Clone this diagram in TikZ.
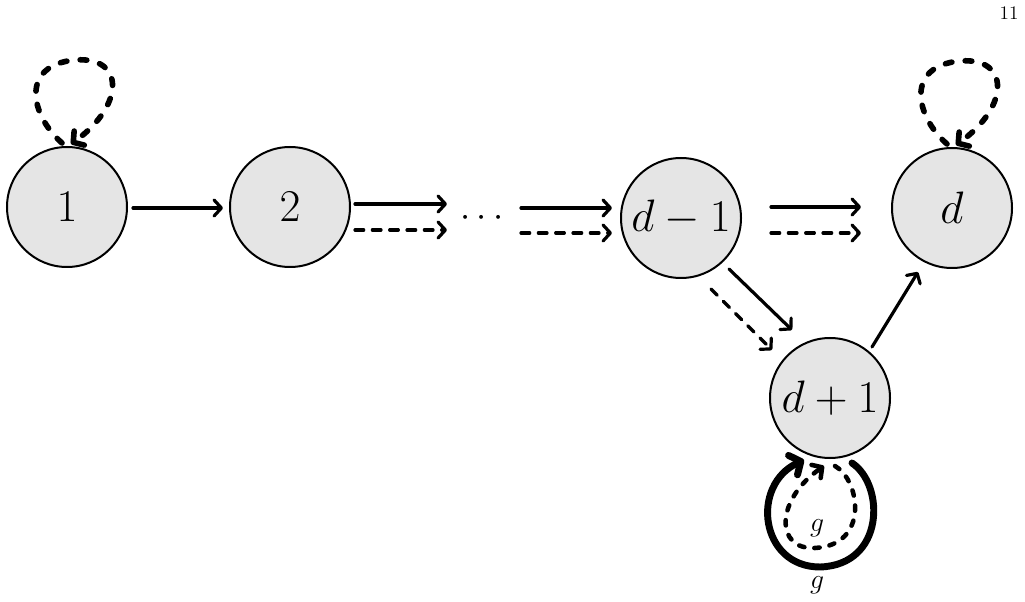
\documentclass[tikz,border=0pt]{standalone}
\usepackage{graphicx}
\usetikzlibrary{arrows.meta,calc}
\newcommand{\bigt}[1]{\scalebox{1.37}{$#1$}}
\begin{document}
\begin{tikzpicture}[x=0.75pt,y=-0.75pt,
  state/.style={circle,draw=black,line width=1.5pt,fill=black!10,minimum size=90pt,inner sep=0pt,font=\fontsize{24.88}{30}\selectfont},
  arr/.style={line width=2.4pt,line cap=round,-{Straight Barb[round,length=5.5pt,width=12pt]}},
  darr/.style={arr,dash pattern=on 6.5pt off 6.5pt},
  dloop/.style={line width=4.2pt,line cap=round,dash pattern=on 5pt off 10pt,-{Straight Barb[round,length=5.5pt,width=13pt]}},
  sloop/.style={line width=5.2pt,line cap=round,-{Straight Barb[round,length=6.5pt,width=16pt]}},
  iloop/.style={line width=3.4pt,line cap=round,dash pattern=on 4pt off 7.5pt,-{Straight Barb[round,length=5.5pt,width=12pt]}},
  lbl/.style={font=\fontsize{20.74}{24}\selectfont,inner sep=0pt}]
\useasboundingbox (0,0) rectangle (1025,602);
\node[font=\fontsize{14.4}{17}\selectfont,inner sep=0pt] (pg) at (1009,13) {11};
\node[state] (n1) at (67,207) {\bigt{1}};
\node[state] (n2) at (290,207) {\bigt{2}};
\node[state] (n4) at (681,218) {\bigt{d-1}};
\node[state] (nd) at (952,208) {\bigt{d}};
\node[state] (n3) at (830,398) {\bigt{d+1}};
\node[font=\fontsize{24.88}{30}\selectfont,inner sep=0pt] (dots) at (482,218) {\scalebox{1.1}{$\cdots$}};
% straight arrows
\draw[arr] ($(n1.east)+(5,1)$) -- ($(n2.west)+(-6,1)$);
\draw[arr] ($(n2.east)+(4,-3)$) -- ($(dots)+(-35,-14)$);
\draw[darr] ($(n2.east)+(4,23)$) -- ($(dots)+(-35,12)$);
\draw[arr] ($(dots)+(39,-10)$) -- ($(n4.west)+(-8,-10)$);
\draw[darr] ($(dots)+(39,15)$) -- ($(n4.west)+(-8,15)$);
\draw[arr] ($(n4.east)+(29,-11)$) -- ($(nd.west)+(-30,-1)$);
\draw[darr] ($(n4.east)+(29,15)$) -- ($(nd.west)+(-30,25)$);
\draw[arr] ($(n4)+(48,51)$) -- ($(n3)+(-38,-68)$);
\draw[darr] ($(n4)+(30,71)$) -- ($(n3)+(-58,-48)$);
\draw[arr] ($(n3)+(42,-51)$) -- ($(nd)+(-34,64)$);
% self loops on top
\draw[dloop] ($(n1)+(-5,-64)$) .. controls ($(n1)+(-37,-92)$) and ($(n1)+(-47,-142)$) .. ($(n1)+(8,-147)$)
  .. controls ($(n1)+(58,-151)$) and ($(n1)+(58,-102)$) .. ($(n1)+(4,-63)$);
\draw[dloop] ($(nd)+(-5,-64)$) .. controls ($(nd)+(-37,-92)$) and ($(nd)+(-47,-142)$) .. ($(nd)+(8,-147)$)
  .. controls ($(nd)+(58,-151)$) and ($(nd)+(58,-102)$) .. ($(nd)+(4,-63)$);
% loops below d+1
\draw[sloop] ($(n3)+(22,65)$) .. controls ($(n3)+(55,87)$) and ($(n3)+(55,167)$) .. ($(n3)+(-10,169)$)
  .. controls ($(n3)+(-70,169)$) and ($(n3)+(-80,87)$) .. ($(n3)+(-26,62)$);
\draw[iloop] ($(n3)+(5,68)$) .. controls ($(n3)+(30,82)$) and ($(n3)+(40,147)$) .. ($(n3)+(-15,150)$)
  .. controls ($(n3)+(-55,152)$) and ($(n3)+(-55,102)$) .. ($(n3)+(-6,68)$);
\node[lbl] (gi) at (817,528) {$g$};
\node[lbl] (go) at (817,585) {$g$};
\end{tikzpicture}
\end{document}
